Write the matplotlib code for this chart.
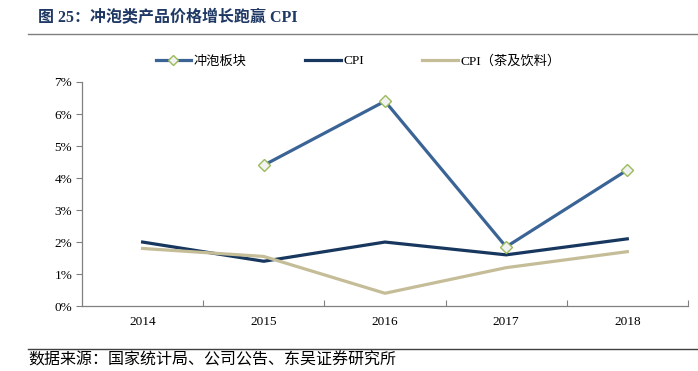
import matplotlib
matplotlib.use("Agg")
import matplotlib.pyplot as plt
from matplotlib.ticker import FixedLocator, FuncFormatter, NullFormatter
from matplotlib.lines import Line2D

plt.rcParams['font.family'] = ['Liberation Serif', 'Noto Sans CJK SC']

# data (percent)
years = ['2014', '2015', '2016', '2017', '2018']
brew = [None, 4.4, 6.4, 1.85, 4.25]          # 冲泡板块 (no 2014 value)
cpi = [2.0, 1.4, 2.0, 1.6, 2.1]
cpi_drink = [1.8, 1.55, 0.4, 1.2, 1.7]       # CPI（茶及饮料）

c_brew = '#3B6496'
c_cpi = '#17375E'
c_drink = '#C4BD97'

fig = plt.figure(figsize=(6.98, 3.71), dpi=100)
ax = fig.add_axes([0.1175, 0.175, 0.868, 0.604])

x = list(range(len(years)))
bx = [i for i, v in zip(x, brew) if v is not None]
by = [v / 100 for v in brew if v is not None]

ax.plot(x, [v / 100 for v in cpi], color=c_cpi, lw=2.3)
ax.plot(x, [v / 100 for v in cpi_drink], color=c_drink, lw=2.3)
ax.plot(bx, by, color=c_brew, lw=2.3, marker='D', ms=6.5,
        markerfacecolor='#F2F2F2', markeredgecolor='#9BBB59', markeredgewidth=1.0)

ax.set_xlim(-0.5, 4.5)
ax.set_ylim(0, 0.07)
ax.yaxis.set_major_locator(FixedLocator([i / 100 for i in range(8)]))
ax.yaxis.set_major_formatter(FuncFormatter(lambda v, p: f'{v * 100:.0f}%'))

# category boundaries as ticks, labels at centres
ax.xaxis.set_major_locator(FixedLocator([i + 0.5 for i in range(5)]))
ax.xaxis.set_major_formatter(NullFormatter())
ax.xaxis.set_minor_locator(FixedLocator(x))
ax.set_xticklabels(years, minor=True)
ax.tick_params(axis='x', which='major', direction='in', length=4, color='#808080')
ax.tick_params(axis='x', which='minor', length=0, pad=7.5, labelsize=9.5)
ax.tick_params(axis='y', direction='out', length=4, color='#808080', labelsize=9.5, pad=3)

for s in ['top', 'right']:
    ax.spines[s].set_visible(False)
for s in ['left', 'bottom']:
    ax.spines[s].set_color('#808080')
    ax.spines[s].set_linewidth(0.9)

handles = [
    Line2D([], [], color=c_brew, lw=2.3, marker='D', ms=5, markerfacecolor='#F2F2F2',
           markeredgecolor='#9BBB59', markeredgewidth=1.0),
    Line2D([], [], color=c_cpi, lw=2.3),
    Line2D([], [], color=c_drink, lw=2.3),
]
fig.legend(handles, ['冲泡板块', 'CPI', 'CPI（茶及饮料）'], ncol=3, frameon=False,
           loc='center', bbox_to_anchor=(0.513, 0.835), fontsize=9.5,
           handlelength=2.7, handletextpad=0.2, columnspacing=4.4)

# title and source
fig.text(0.054, 0.952, '图 25：冲泡类产品价格增长跑赢 CPI', fontsize=11.5, fontweight='bold',
         color='#1F3864', va='center', ha='left')
fig.add_artist(Line2D([0.04, 1.0], [0.908, 0.908], transform=fig.transFigure,
                      color='#7F7F7F', lw=1.0))
fig.add_artist(Line2D([0.04, 1.0], [0.06, 0.06], transform=fig.transFigure,
                      color='#404040', lw=1.0))
fig.text(0.04, 0.05, '数据来源：国家统计局、公司公告、东吴证券研究所', fontsize=11.5,
         color='#000000', va='top', ha='left')

fig.savefig('out.png', dpi=100)
